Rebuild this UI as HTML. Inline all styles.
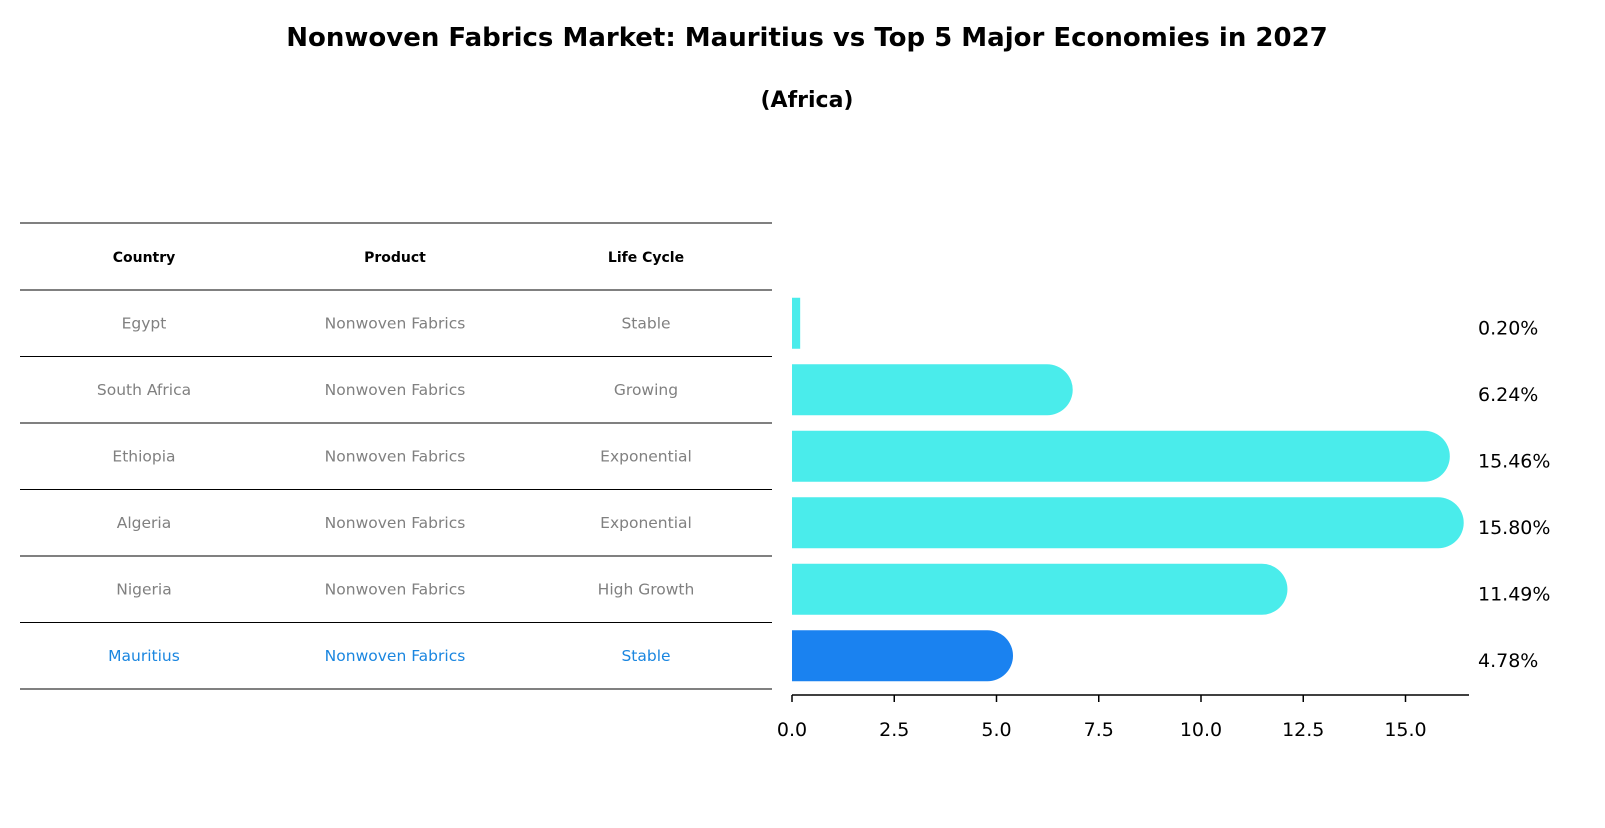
<!DOCTYPE html>
<html><head><meta charset="utf-8"><style>
body{margin:0;background:#fff;font-family:"Liberation Sans","DejaVu Sans",sans-serif;}
svg text{font-family:"DejaVu Sans","Liberation Sans",sans-serif;}
</style></head><body>
<svg width="1605" height="823" xmlns="http://www.w3.org/2000/svg" id="chart">
<text x="807" y="46" text-anchor="middle" font-size="26" font-weight="bold">Nonwoven Fabrics Market: Mauritius vs Top 5 Major Economies in 2027</text>
<text x="807" y="107" text-anchor="middle" font-size="22" font-weight="bold">(Africa)</text>
<g id="table"></g>
<g id="bars"></g>
</svg>
<script>
const countries=["Egypt","South Africa","Ethiopia","Algeria","Nigeria","Mauritius"];
const products=["Nonwoven Fabrics","Nonwoven Fabrics","Nonwoven Fabrics","Nonwoven Fabrics","Nonwoven Fabrics","Nonwoven Fabrics"];
const lifeCycles=["Stable","Growing","Exponential","Exponential","High Growth","Stable"];
const values=[0.20,6.24,15.46,15.80,11.49,4.78];
const ticks=[0,2.5,5,7.5,10,12.5,15];
const NS="http://www.w3.org/2000/svg";
const x0=792,pxPerUnit=40.9;
const xs=v=>x0+v*pxPerUnit;
const rowTop=290,rowH=66.5;
const yc=i=>rowTop+rowH*i+rowH/2;
function mk(tag,attrs,parent){const e=document.createElementNS(NS,tag);for(const k in attrs)e.setAttribute(k,attrs[k]);parent.appendChild(e);return e;}
const tbl=document.getElementById('table'),bars=document.getElementById('bars');
const colX=[144,395,646];
// table lines
const lineYs=[223];for(let i=0;i<=countries.length;i++)lineYs.push(rowTop+rowH*i);
lineYs.forEach((y,i)=>{const l=mk('line',{x1:20,x2:772,y1:y,y2:y,stroke:'#000','stroke-width':1},tbl);

});
["Country","Product","Life Cycle"].forEach((h,j)=>{const t=mk('text',{x:colX[j],y:262,'text-anchor':'middle','font-size':14,'font-weight':'bold'},tbl);t.textContent=h;

});
countries.forEach((c,i)=>{
 const col=i===countries.length-1?'#1a86e0':'#808080';
 [c,products[i],lifeCycles[i]].forEach((v,j)=>{const t=mk('text',{x:colX[j],y:yc(i)+5,'text-anchor':'middle','font-size':15.5,fill:col},tbl);t.textContent=v;
 
 });
 const h=51,r=25.5,xe=xs(values[i]),y=yc(i)-h/2;
 const fill=i===countries.length-1?'#1a82f0':'#4aeceb';
 const p=mk('path',{d:`M${x0},${y}H${xe}A${r},${r} 0 0 1 ${xe},${y+h}H${x0}Z`,fill:fill},bars);
 if(values[i]<1){p.setAttribute('d',`M${x0},${y}H${xe}V${y+h}H${x0}Z`);}
 
 
 const t=mk('text',{x:1478,y:yc(i)+11,'font-size':19},bars);t.textContent=values[i].toFixed(2)+'%';
 
 
});
const ax=mk('line',{x1:x0,x2:1469,y1:695,y2:695,stroke:'#000','stroke-width':1.5},bars);


ticks.forEach(v=>{const l=mk('line',{x1:xs(v),x2:xs(v),y1:695,y2:702,stroke:'#000','stroke-width':1.5},bars);


const t=mk('text',{x:xs(v),y:736,'text-anchor':'middle','font-size':19},bars);t.textContent=v.toFixed(1);

});
</script>
</body></html>
